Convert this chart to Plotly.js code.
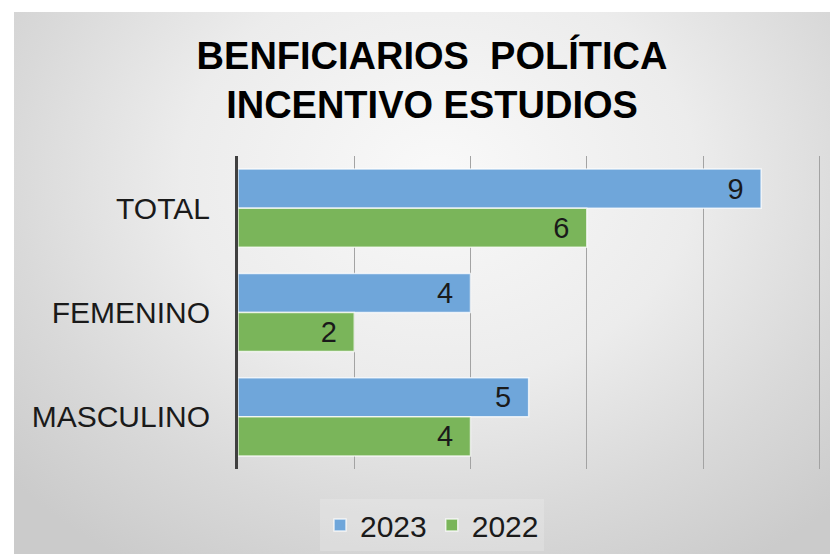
<!DOCTYPE html>
<html>
<head>
<meta charset="utf-8">
<script src="https://cdn.plot.ly/plotly-3.0.1.min.js"></script>
<style>
  html, body { margin: 0; padding: 0; background: #ffffff; }
  #wrap { position: relative; width: 830px; height: 554px; overflow: hidden; background: #ffffff; }
  #bg { position: absolute; left: 14px; top: 12px; width: 816px; height: 542px;
        background: radial-gradient(ellipse 70% 85% at 52% 30%, #f9f9f9 0%, #ececec 45%, #d9d9d9 75%, #cbcbcb 100%); }
  #chart { position: absolute; left: 0; top: 0; width: 830px; height: 554px; }
</style>
</head>
<body>
<div id="wrap">
  <div id="bg"></div>
  <div id="chart"></div>
</div>
<script>
const categories = ["TOTAL", "FEMENINO", "MASCULINO"];
const series2023 = [9, 4, 5];
const series2022 = [6, 2, 4];
const seriesNames = ["2023", "2022"];

const FONT = "Liberation Sans, Arial, sans-serif";

function barTrace(name, values, color) {
  return {
    type: "bar",
    orientation: "h",
    name: name,
    y: categories,
    x: values,
    marker: { color: color, line: { color: "rgba(255,255,255,0.75)", width: 1.5 } },
    texttemplate: "%{x}\u2002",
    textposition: "inside",
    insidetextanchor: "end",
    textangle: 0,
    constraintext: "none",
    textfont: { family: FONT, size: 29, color: "#1a1a1a" },
    hoverinfo: "x+name"
  };
}

const data = [
  barTrace(seriesNames[0], series2023, "#6fa6da"),
  barTrace(seriesNames[1], series2022, "#7ab55a")
];

const layout = {
  width: 830,
  height: 554,
  paper_bgcolor: "rgba(0,0,0,0)",
  plot_bgcolor: "rgba(0,0,0,0)",
  margin: { l: 237.5, r: 1.8, t: 156, b: 85 },
  barmode: "group",
  bargap: 0.25,
  bargroupgap: 0,
  title: {
    text: "BENFICIARIOS  POLÍTICA<br>INCENTIVO ESTUDIOS",
    font: { family: FONT, size: 38, color: "#000000", weight: "bold" },
    x: 432 / 830,
    xref: "container",
    xanchor: "center",
    y: 1 - 69 / 554,
    yref: "container",
    yanchor: "middle"
  },
  xaxis: {
    range: [0, 10.15],
    tickvals: [0, 2, 4, 6, 8, 10],
    showticklabels: false,
    showgrid: true,
    gridcolor: "#a3a3a3",
    gridwidth: 1,
    zeroline: false,
    showline: false,
    ticks: "",
    fixedrange: true
  },
  yaxis: {
    type: "category",
    autorange: "reversed",
    showline: true,
    linecolor: "#404040",
    linewidth: 3,
    showgrid: false,
    zeroline: false,
    ticks: "outside",
    ticklen: 19,
    tickcolor: "rgba(0,0,0,0)",
    tickfont: { family: FONT, size: 30, color: "#1a1a1a" },
    fixedrange: true
  },
  showlegend: true,
  legend: {
    orientation: "h",
    xref: "container",
    yref: "container",
    x: 432 / 830,
    xanchor: "center",
    y: 1 - 525 / 554,
    yanchor: "middle",
    font: { family: FONT, size: 30, color: "#1a1a1a" },
    bgcolor: "rgba(240,240,240,0.3)",
    itemwidth: 30,
    tracegroupgap: 0
  }
};

Plotly.newPlot("chart", data, layout, { displayModeBar: false, staticPlot: true });
</script>
</body>
</html>
